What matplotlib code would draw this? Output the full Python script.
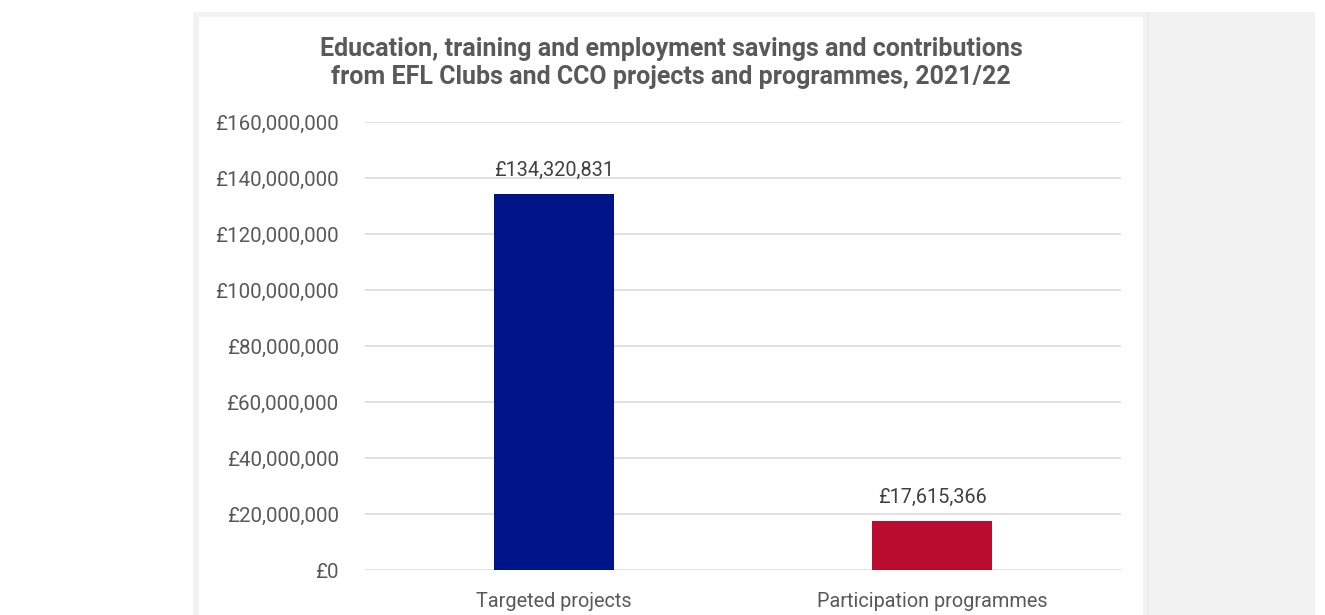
import numpy as np
import matplotlib
matplotlib.use('Agg')
import matplotlib.pyplot as plt
from matplotlib.patches import Rectangle
from matplotlib.ticker import FuncFormatter

categories = ['Targeted projects', 'Participation programmes']
values = [134320831, 17615366]
bar_colors = ['#001489', '#BA0C2F']
yticks = [0, 20e6, 40e6, 60e6, 80e6, 100e6, 120e6, 140e6, 160e6]

title = ('Education, training and employment savings and contributions\n'
         'from EFL Clubs and CCO projects and programmes, 2021/22')

W, H = 1325, 615
plt.rcParams['font.family'] = ['Roboto', 'DejaVu Sans']

fig = plt.figure(figsize=(W / 100, H / 100), dpi=100)
fig.patch.set_facecolor('white')

# page background and white chart card
def px_rect(x0, y0, x1, y1, color, z):
    fig.patches.append(Rectangle((x0 / W, 1 - y1 / H), (x1 - x0) / W, (y1 - y0) / H,
                                 transform=fig.transFigure, facecolor=color,
                                 edgecolor='none', zorder=z))

px_rect(193, 12, 1315, H, '#f2f2f2', 0)
px_rect(1147, 12, 1149, H, '#ebebeb', 1)
px_rect(199, 17, 1143, H, 'white', 2)

ax_l, ax_r, ax_t, ax_b = 365, 1121, 122, 570
ax = fig.add_axes([ax_l / W, 1 - ax_b / H, (ax_r - ax_l) / W, (ax_b - ax_t) / H])
ax.set_facecolor('none')
ax.set_zorder(3)

x = np.arange(len(categories))
ax.bar(x, values, width=0.315, color=bar_colors, zorder=3)

for xi, v in zip(x, values):
    ax.annotate('£{:,.0f}'.format(v), (xi, v), xytext=(0, 10), textcoords='offset points',
                ha='center', va='bottom', fontsize=14.3, color='#404040')

ax.set_xlim(-0.5, 1.5)
ax.set_ylim(0, 160e6)
ax.set_yticks(yticks)
ax.yaxis.set_major_formatter(FuncFormatter(lambda v, p: '£{:,.0f}'.format(v)))
ax.set_xticks(x)
ax.set_xticklabels(categories)
ax.tick_params(axis='y', length=0, pad=19, labelsize=14.8, labelcolor='#595959')
ax.tick_params(axis='x', length=0, pad=16, labelsize=14.3, labelcolor='#595959')
ax.grid(axis='y', color='#d9d9d9', lw=1.1, zorder=0)
ax.set_axisbelow(True)
for s in ax.spines.values():
    s.set_visible(False)

fig.text(671 / W, 1 - 63 / H, title, ha='center', va='center', fontsize=18,
         fontweight='bold', color='#595959', linespacing=1.2, zorder=4)

fig.savefig('out.png', dpi=100)
